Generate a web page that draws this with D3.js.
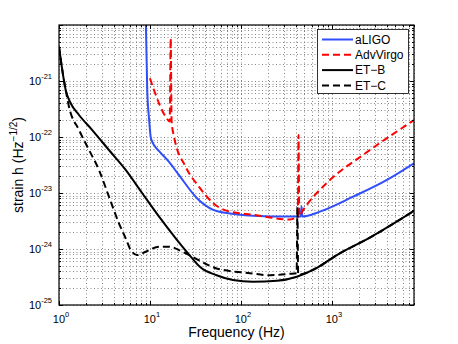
<!DOCTYPE html>
<html>
<head>
<meta charset="utf-8">
<script src="https://cdn.jsdelivr.net/npm/d3@7"></script>
<style>
body { margin: 0; background: #fff; }
text { font-family: "Liberation Sans", Arial, sans-serif; fill: #000; }
</style>
</head>
<body>
<div id="chart"></div>
<script>
// values (Hz, strain 1/sqrt(Hz))
const freqALIGO = [8.9, 9.34, 9.8, 10.18, 10.5, 11.07, 12.6, 16.2, 20.8, 33.1, 49.6, 69.6, 136, 318, 455, 464, 473, 738, 1714, 3990, 8000];
const strainALIGO = [3e-20, 6.9e-22, 2.0e-22, 1.01e-22, 8.5e-23, 7.2e-23, 5.6e-23, 3.6e-23, 2.1e-23, 8.0e-24, 5.0e-24, 4.4e-24, 3.94e-24, 3.8e-24, 3.8e-24, 5.8e-24, 3.8e-24, 4.65e-24, 8.6e-24, 1.7e-23, 3.4e-23];

const freqVirgo = [10, 11.07, 14.9, 16.5, 16.9, 17.3, 18.4, 24.7, 34.5, 49.6, 75.7, 136, 345, 422, 430, 438, 484, 951, 2208, 8000];
const strainVirgo = [1.12e-21, 6.9e-22, 2.3e-22, 1.9e-22, 5.8e-21, 1.9e-22, 1.01e-22, 2.93e-23, 1.3e-23, 6.55e-24, 4.65e-24, 4.1e-24, 3.37e-24, 3.9e-24, 1.09e-22, 3.9e-24, 5e-24, 1.7e-23, 4.8e-23, 2e-22];

const freqETB = [1, 1.115, 1.185, 1.345, 1.66, 2.32, 3.54, 5.41, 8.23, 12.6, 19.2, 29.2, 35.4, 54, 81.7, 135, 249, 412, 684, 1135, 2617, 8000];
const strainETB = [4.1e-21, 1.2e-21, 6.9e-22, 4.0e-22, 2.47e-22, 1.33e-22, 5.86e-23, 2.58e-23, 9.9e-24, 3.78e-24, 1.55e-24, 6.8e-25, 4.8e-25, 3.4e-25, 2.8e-25, 2.6e-25, 2.7e-25, 3.2e-25, 4.6e-25, 7.8e-25, 1.6e-24, 4.8e-24];

const freqETC = [1, 1.115, 1.185, 1.288, 1.66, 2.14, 2.75, 3.54, 4.56, 5.41, 6.14, 7.25, 8.97, 12.6, 16.2, 22.6, 29.2, 54, 126, 208, 345, 410, 418, 426, 684, 1135, 2617, 8000];
const strainETC = [4.1e-21, 1.2e-21, 6.9e-22, 3.47e-22, 1.33e-22, 5.86e-23, 2.58e-23, 8.6e-24, 2.88e-24, 1.55e-24, 9.6e-25, 7.8e-25, 8.95e-25, 1.1e-24, 1.1e-24, 8.95e-25, 7.3e-25, 4.5e-25, 3.7e-25, 3.4e-25, 3.6e-25, 3.7e-25, 5.6e-24, 3.5e-25, 4.6e-25, 7.8e-25, 1.6e-24, 4.8e-24];

const seriesNames = ["aLIGO", "AdvVirgo", "ET\u2212B", "ET\u2212C"];
const seriesColors = ["#2f4ffa", "#ff0000", "#000000", "#000000"];
const seriesDashed = [false, true, false, true];

const xTicks = [1, 10, 100, 1000];
const yTicks = [1e-25, 1e-24, 1e-23, 1e-22, 1e-21];

const W = 458, H = 344;
const margin = {left: 59, top: 25, right: 44, bottom: 39};

const svg = d3.select("#chart").append("svg")
    .attr("width", W)
    .attr("height", H);

svg.append("rect").attr("width", W).attr("height", H).attr("fill", "#fff");

const x = d3.scaleLog().domain([1, 8000]).range([margin.left, W - margin.right]);
const y = d3.scaleLog().domain([1e-25, 1e-20]).range([H - margin.bottom, margin.top]);

const x0 = x.range()[0], x1 = x.range()[1];
const y0 = y.range()[0], y1 = y.range()[1];

// minor + major positions, 1..9 per decade
function logSteps(lo, hi) {
    const out = [];
    for (let e = Math.floor(Math.log10(lo)); e <= Math.ceil(Math.log10(hi)); e++) {
        for (let m = 1; m < 10; m++) {
            const v = m * Math.pow(10, e);
            if (v >= lo * 0.999 && v <= hi * 1.001) out.push({v: v, major: m === 1});
        }
    }
    return out;
}
const xSteps = logSteps(1, 8000);
const ySteps = logSteps(1e-25, 1e-20);

// dotted grid
const grid = svg.append("g")
    .attr("stroke", "#666")
    .attr("stroke-width", 0.8)
    .attr("stroke-dasharray", "1,2.5");

grid.selectAll("line.gx").data(xSteps).enter().append("line")
    .attr("x1", d => Math.round(x(d.v)) + 0.5).attr("x2", d => Math.round(x(d.v)) + 0.5)
    .attr("y1", y0).attr("y2", y1);

grid.selectAll("line.gy").data(ySteps).enter().append("line")
    .attr("y1", d => Math.round(y(d.v)) + 0.5).attr("y2", d => Math.round(y(d.v)) + 0.5)
    .attr("x1", x0).attr("x2", x1);

// curves
svg.append("clipPath").attr("id", "plotclip")
    .append("rect").attr("x", x0).attr("y", y1).attr("width", x1 - x0).attr("height", y0 - y1);

const line = d3.line()
    .x(d => x(d[0]))
    .y(d => y(d[1]))
    .curve(d3.curveMonotoneX);

const series = [
    d3.zip(freqALIGO, strainALIGO),
    d3.zip(freqVirgo, strainVirgo),
    d3.zip(freqETB, strainETB),
    d3.zip(freqETC, strainETC)
];

const curves = svg.append("g").attr("clip-path", "url(#plotclip)");
series.forEach((pts, i) => {
    curves.append("path")
        .datum(pts)
        .attr("d", line)
        .attr("fill", "none")
        .attr("stroke", seriesColors[i])
        .attr("stroke-width", 2)
        .attr("stroke-linejoin", "round")
        .attr("stroke-dasharray", seriesDashed[i] ? "7,4" : null);
});

// axes box + ticks on all four sides (inward)
const ticks = svg.append("g").attr("stroke", "#000").attr("stroke-width", 1);
xSteps.forEach(d => {
    const px = Math.round(x(d.v)) + 0.5;
    const len = d.major ? 4 : 2;
    ticks.append("line").attr("x1", px).attr("x2", px).attr("y1", y0).attr("y2", y0 - len);
    ticks.append("line").attr("x1", px).attr("x2", px).attr("y1", y1).attr("y2", y1 + len);
});
ySteps.forEach(d => {
    const py = Math.round(y(d.v)) + 0.5;
    const len = d.major ? 4 : 2;
    ticks.append("line").attr("y1", py).attr("y2", py).attr("x1", x0).attr("x2", x0 + len);
    ticks.append("line").attr("y1", py).attr("y2", py).attr("x1", x1).attr("x2", x1 - len);
});

svg.append("rect")
    .attr("x", x0).attr("y", y1)
    .attr("width", x1 - x0).attr("height", y0 - y1)
    .attr("fill", "none")
    .attr("stroke", "#000")
    .attr("stroke-width", 1.2);

// tick labels 10^n
function powLabel(sel, e) {
    sel.append("tspan").text("10");
    sel.append("tspan").attr("dy", -6).attr("font-size", 7.5).text(e);
}

xTicks.forEach(v => {
    const t = svg.append("text")
        .attr("x", x(v) + 2)
        .attr("y", y0 + 18)
        .attr("text-anchor", "middle")
        .attr("font-size", 11);
    powLabel(t, String(Math.round(Math.log10(v))));
});

yTicks.forEach(v => {
    const t = svg.append("text")
        .attr("x", x0 - 7)
        .attr("y", y(v) + 4)
        .attr("text-anchor", "end")
        .attr("font-size", 11);
    powLabel(t, String(Math.round(Math.log10(v))));
});

// axis titles
svg.append("text")
    .attr("x", (x0 + x1) / 2)
    .attr("y", 337)
    .attr("text-anchor", "middle")
    .attr("font-size", 14)
    .text("Frequency (Hz)");

const yl = svg.append("text")
    .attr("transform", `translate(23,${(y0 + y1) / 2}) rotate(-90)`)
    .attr("text-anchor", "middle")
    .attr("font-size", 14);
yl.append("tspan").text("strain h (Hz");
yl.append("tspan").attr("dy", -6).attr("font-size", 10).text("\u22121/2");
yl.append("tspan").attr("dy", 6).text(")");

// legend
const lg = svg.append("g");
lg.append("rect")
    .attr("x", 317.5).attr("y", 29.5)
    .attr("width", 91).attr("height", 64)
    .attr("fill", "#fff")
    .attr("stroke", "#000")
    .attr("stroke-width", 0.8);

seriesNames.forEach((name, i) => {
    const ly = 39.5 + i * 15.3;
    lg.append("line")
        .attr("x1", 322).attr("x2", 353)
        .attr("y1", ly).attr("y2", ly)
        .attr("stroke", seriesColors[i])
        .attr("stroke-width", 2)
        .attr("stroke-dasharray", seriesDashed[i] ? "7,4" : null);
    lg.append("text")
        .attr("x", 355)
        .attr("y", ly + 4.3)
        .attr("font-size", 12)
        .text(name);
});
</script>
</body>
</html>
